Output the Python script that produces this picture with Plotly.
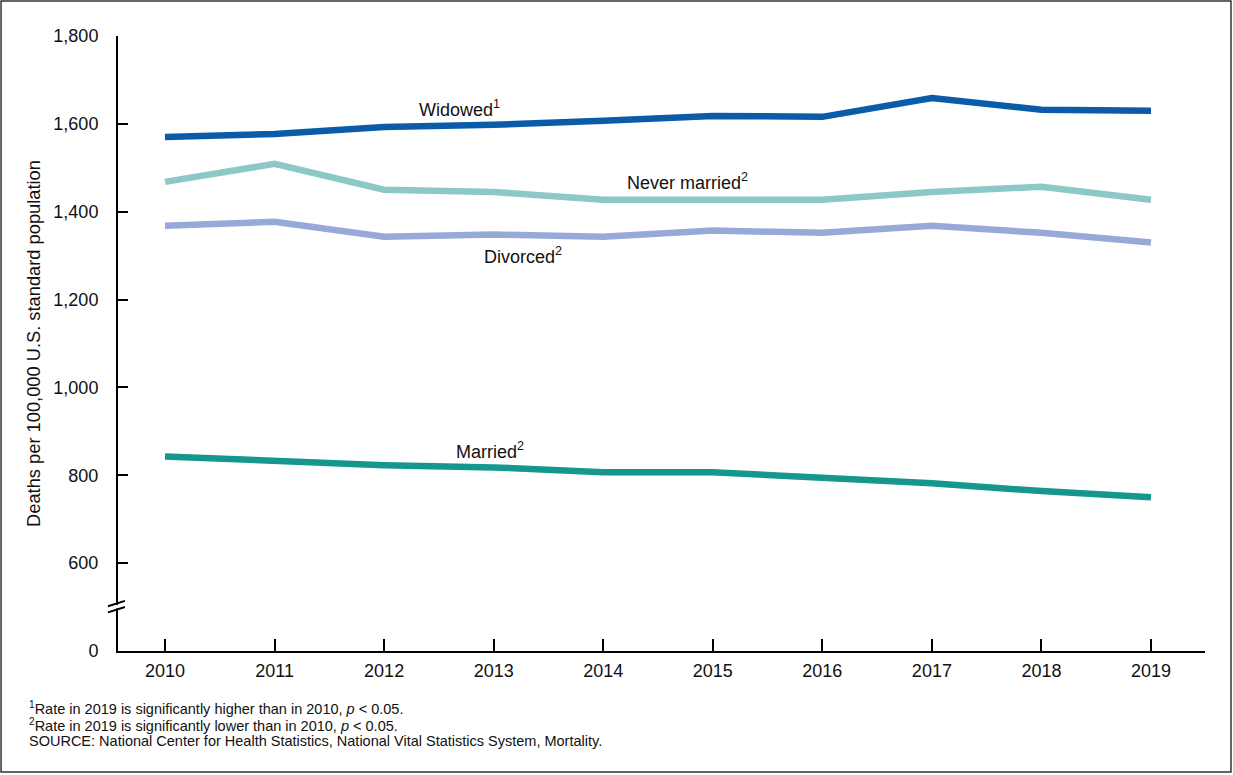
import plotly.graph_objects as go

years = [2010, 2011, 2012, 2013, 2014, 2015, 2016, 2017, 2018, 2019]
widowed = [1570, 1577, 1593, 1598, 1607, 1618, 1616, 1659, 1632, 1630]
never_married = [1468, 1509, 1450, 1445, 1427, 1427, 1427, 1445, 1457, 1427]
divorced = [1368, 1377, 1343, 1348, 1343, 1357, 1352, 1368, 1352, 1330]
married = [843, 832, 823, 818, 807, 807, 793, 782, 764, 750]

y_tickvals = [400, 600, 800, 1000, 1200, 1400, 1600, 1800]
y_ticktext = ["0", "600", "800", "1,000", "1,200", "1,400", "1,600", "1,800"]

series = [
    ("Widowed", widowed, "#0a5ba8"),
    ("Never married", never_married, "#8cc8c5"),
    ("Divorced", divorced, "#97a9d7"),
    ("Married", married, "#15968e"),
]

fig = go.Figure()
for name, vals, col in series:
    fig.add_trace(go.Scatter(x=years, y=vals, mode="lines", name=name,
                             line=dict(color=col, width=6.5), showlegend=False))

labels = [
    ("Widowed<sup>1</sup>", 2012.69, 1634),
    ("Never married<sup>2</sup>", 2014.77, 1468),
    ("Divorced<sup>2</sup>", 2013.27, 1300),
    ("Married<sup>2</sup>", 2012.97, 857),
]
for t, x, y in labels:
    fig.add_annotation(x=x, y=y, text=t, showarrow=False,
                       font=dict(size=18, color="#111"))

font = "Liberation Sans, Arial, sans-serif"

fig.update_layout(
    width=1233, height=775,
    margin=dict(l=118, r=28, t=36, b=124),
    paper_bgcolor="white", plot_bgcolor="white",
    font=dict(family=font, size=18, color="#111"),
    xaxis=dict(range=[2009.571, 2019.493], tickvals=years,
               ticks="inside", ticklen=12, tickwidth=2, tickcolor="black",
               showline=True, linecolor="black", linewidth=2,
               showgrid=False, zeroline=False, tickfont=dict(size=18),
               ticklabelstandoff=2),
    yaxis=dict(range=[400, 1800], tickvals=y_tickvals, ticktext=y_ticktext,
               ticks="inside", ticklen=10, tickwidth=2, tickcolor="black",
               showline=True, linecolor="black", linewidth=2,
               showgrid=False, zeroline=False, tickfont=dict(size=18),
               ticklabelstandoff=14,
               title=dict(text="Deaths per 100,000 U.S. standard population",
                          font=dict(size=18.3), standoff=8)),
)

# axis break
fig.add_shape(type="rect", xref="paper", yref="y", x0=-0.004, x1=0.004,
              y0=497, y1=505, fillcolor="white", line=dict(width=0), layer="above")
for yc in [508, 494]:
    fig.add_shape(type="line", xref="paper", yref="y", x0=-0.0092, x1=0.0064,
                  y0=yc - 6, y1=yc + 6, line=dict(color="black", width=2), layer="above")

# outer border
fig.add_shape(type="rect", xref="paper", yref="paper",
              x0=-0.1076, x1=1.0239, y0=-0.1967, y1=1.0569,
              line=dict(color="#333", width=1.5))

notes = [
    "<sup>1</sup>Rate in 2019 is significantly higher than in 2010, <i>p</i> < 0.05.",
    "<sup>2</sup>Rate in 2019 is significantly lower than in 2010, <i>p</i> < 0.05.",
    "SOURCE: National Center for Health Statistics, National Vital Statistics System, Mortality.",
]
for i, n in enumerate(notes):
    fig.add_annotation(xref="paper", yref="paper", x=(27 - 118) / 1087,
                       y=(651 - (708 + 16.5 * i)) / 615, text=n, showarrow=False,
                       xanchor="left", yanchor="middle", align="left",
                       font=dict(size=14.5, color="#111"))

fig.write_html("out.html", config={"displayModeBar": False},
               post_script="document.body.style.margin='0';document.body.style.padding='0';")
